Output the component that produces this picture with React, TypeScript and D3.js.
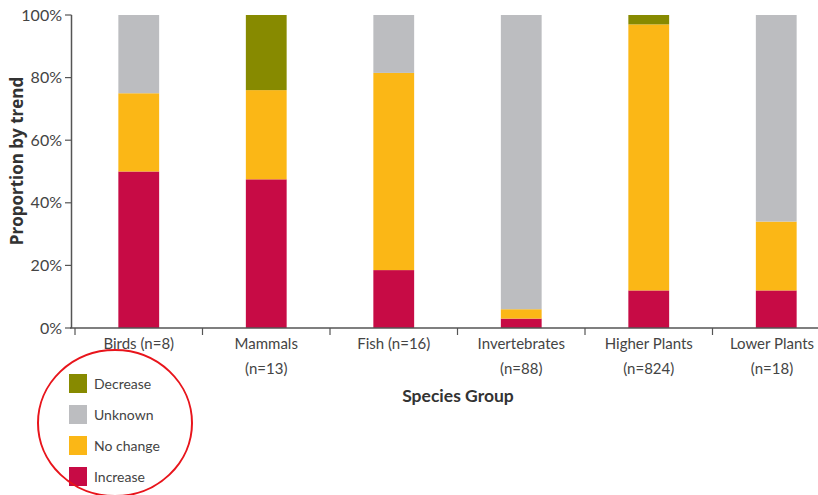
import React from "react";
import * as d3 from "d3";

const categories = ["Birds", "Mammals", "Fish", "Invertebrates", "Higher Plants", "Lower Plants"];
const categoryLabels: string[][] = [
  ["Birds (n=8)"],
  ["Mammals", "(n=13)"],
  ["Fish (n=16)"],
  ["Invertebrates", "(n=88)"],
  ["Higher Plants", "(n=824)"],
  ["Lower Plants", "(n=18)"],
];
const increase = [50, 47.5, 18.5, 3, 12, 12];
const noChange = [25, 28.5, 63, 3, 85, 22];
const unknown = [25, 0, 18.5, 94, 0, 66];
const decrease = [0, 24, 0, 0, 3, 0];
const yTicks = [0, 20, 40, 60, 80, 100];
const seriesKeys = ["increase", "noChange", "unknown", "decrease"];
const seriesNames = ["Increase", "No change", "Unknown", "Decrease"];
const seriesColors = ["#C70B45", "#FBB716", "#BCBDC0", "#878A00"];
const legendOrder = ["decrease", "unknown", "noChange", "increase"];

const W = 818;
const H = 495;
const FONT = "Lato, 'Open Sans', sans-serif";
const BOLDFONT = "'Open Sans', Lato, sans-serif";

export default function App() {
  const rows = categories.map((c, i) => ({
    cat: c,
    increase: increase[i],
    noChange: noChange[i],
    unknown: unknown[i],
    decrease: decrease[i],
  }));
  const stacked = d3.stack<any>().keys(seriesKeys)(rows);
  const x = d3.scaleBand<string>().domain(categories).range([75, 840]).padding(0);
  const y = d3.scaleLinear().domain([0, 100]).range([328, 15]);
  const color = d3.scaleOrdinal<string, string>().domain(seriesKeys).range(seriesColors);
  const nameOf = (k: string) => seriesNames[seriesKeys.indexOf(k)];
  const bw = x.bandwidth() * 0.32;
  const axisColor = "#555";

  return (
    <svg width={W} height={H} style={{ position: "absolute", left: 0, top: 0, background: "#fff" }}>
      {/* bars */}
      {stacked.map((s) =>
        s.map((d, i) => {
          const h = y(d[0]) - y(d[1]);
          if (h <= 0) return null;
          const cx = (x(categories[i]) as number) + x.bandwidth() / 2;
          return (
            <rect
              key={s.key + i}
              x={cx - bw / 2}
              y={y(d[1])}
              width={bw}
              height={h}
              fill={color(s.key)}
            />
          );
        })
      )}
      {/* y axis */}
      <line x1={71.5} x2={71.5} y1={15} y2={328} stroke={axisColor} strokeWidth={1.5} />
      {yTicks.map((t) => (
        <g key={t}>
          <line x1={65} x2={71.5} y1={y(t)} y2={y(t)} stroke={axisColor} strokeWidth={1.2} />
          <text x={62} y={y(t)} dy="0.35em" textAnchor="end" fontFamily={FONT} fontSize={16} fill="#444">
            {t}%
          </text>
        </g>
      ))}
      <text
        transform={`translate(23,${161}) rotate(-90)`}
        textAnchor="middle"
        fontFamily={BOLDFONT}
        fontWeight="bold"
        fontSize={17}
        fill="#333"
      >
        Proportion by trend
      </text>
      {/* x axis */}
      <line x1={70} x2={W} y1={328} y2={328} stroke={axisColor} strokeWidth={1.5} />
      {categories.map((c, i) => (
        <g key={c}>
          <line
            x1={x(c) as number}
            x2={x(c) as number}
            y1={328}
            y2={335}
            stroke={axisColor}
            strokeWidth={1.2}
          />
          {categoryLabels[i].map((ln, j) => (
            <text
              key={j}
              x={Math.min((x(c) as number) + x.bandwidth() / 2, 772)}
              y={349 + j * 25}
              textAnchor="middle"
              fontFamily={FONT}
              fontSize={15}
              fill="#444"
            >
              {ln}
            </text>
          ))}
        </g>
      ))}
      <text x={458} y={402} textAnchor="middle" fontFamily={FONT} fontWeight="bold" fontSize={17.5} fill="#333">
        Species Group
      </text>
      {/* legend */}
      {legendOrder.map((k, i) => (
        <g key={k} transform={`translate(69,${374 + i * 31})`}>
          <rect width={18} height={19} fill={color(k)} />
          <text x={25} y={10} dy="0.35em" fontFamily={FONT} fontSize={14} fill="#444">
            {nameOf(k)}
          </text>
        </g>
      ))}
      <ellipse cx={115} cy={423} rx={77} ry={73} fill="none" stroke="#E8141B" strokeWidth={2} />
    </svg>
  );
}
